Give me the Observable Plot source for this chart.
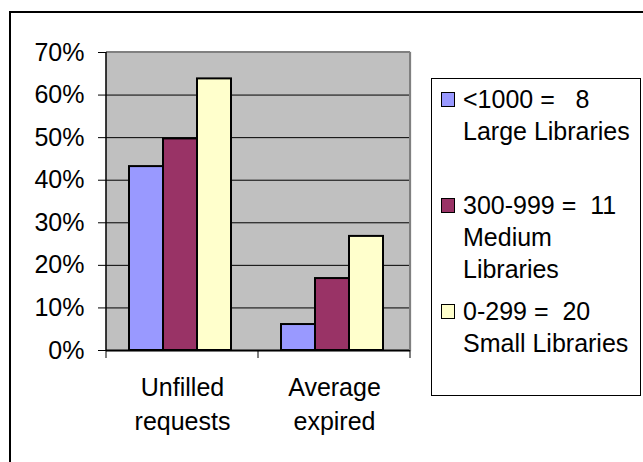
<!DOCTYPE html>
<html>
<head>
<meta charset="utf-8">
<script src="https://cdn.jsdelivr.net/npm/d3@7"></script>
<script src="https://cdn.jsdelivr.net/npm/@observablehq/plot@0.6"></script>
<style>
  html, body { margin: 0; padding: 0; background: #fff; }
  body { width: 643px; height: 462px; position: relative; overflow: hidden;
         font-family: "Liberation Sans", Arial, sans-serif; }
  #chart { position: absolute; left: 0; top: 0; }
  #outer { position: absolute; left: 9px; top: 11px; width: 700px; height: 500px;
           border: 2px solid #000; pointer-events: none; }
  #legend { position: absolute; left: 431px; top: 78px; width: 208px; height: 316px;
            border: 1px solid #000; background: #fff; }
  .entry { position: relative; height: 106px; padding-top: 4px; box-sizing: border-box; }
  .sw { position: absolute; left: 9px; top: 13px; width: 14px; height: 15px;
        box-sizing: border-box; border: 1.5px solid #000; }
  .lbl { position: absolute; left: 31px; top: 4px; font-size: 25px; line-height: 32px;
         white-space: pre; color: #000; }
</style>
</head>
<body>
<div id="chart"></div>
<div id="legend"></div>
<div id="outer"></div>
<script>
// ---- data ----
const categories = ["Unfilled\nrequests", "Average\nexpired"];
const seriesKeys = ["Large", "Medium", "Small"];
const seriesLabels = [
  ["<1000 =   8", "Large Libraries"],
  ["300-999 =  11", "Medium", "Libraries"],
  ["0-299 =  20", "Small Libraries"]
];
const largeValues  = [0.432, 0.061];
const mediumValues = [0.497, 0.169];
const smallValues  = [0.638, 0.268];
const seriesColors = ["#9999FF", "#993366", "#FFFFCC"];
const yTicks = [0, 0.1, 0.2, 0.3, 0.4, 0.5, 0.6, 0.7];
const gridTicks = [0.1, 0.2, 0.3, 0.4, 0.5, 0.6];

const valuesBySeries = [largeValues, mediumValues, smallValues];
const data = categories.flatMap((c, i) =>
  seriesKeys.map((s, j) => ({category: c, series: s, value: valuesBySeries[j][i]})));

const plot = Plot.plot({
  width: 420,
  height: 445,
  marginLeft: 106,
  marginRight: 10,
  marginTop: 52,
  marginBottom: 95,
  style: {fontFamily: "Liberation Sans, Arial, sans-serif", fontSize: "25px",
          background: "transparent", color: "#000", overflow: "visible"},
  fx: {domain: categories, padding: 0, axis: null},
  x: {domain: seriesKeys, paddingInner: 0, paddingOuter: 0.735, align: 0.46, axis: null},
  y: {domain: [0, 0.7]},
  color: {domain: seriesKeys, range: seriesColors},
  marks: [
    Plot.frame({fill: "#C0C0C0", stroke: "#C0C0C0", strokeWidth: 1.5}),
    Plot.gridY(gridTicks, {stroke: "#000", strokeOpacity: 1, strokeWidth: 1}),
    Plot.barY(data, {fx: "category", x: "series", y: "value", fill: "series",
                     stroke: "#000", strokeWidth: 2}),
    Plot.ruleY([0], {stroke: "#000", strokeWidth: 2}),
    Plot.axisY(yTicks, {tickSize: 8, tickPadding: 14, tickFormat: d3.format(".0%"),
                        label: null, fontSize: 25, strokeWidth: 1}),
    Plot.text(categories, {fx: d => d, text: d => d, frameAnchor: "bottom",
                           lineAnchor: "top", dy: 21, lineHeight: 1.36, fontSize: 25, fill: "#000"})
  ]
});
document.getElementById("chart").appendChild(plot);

// decorations derived from the plot's own scales
const fx = plot.scale("fx");
const y = plot.scale("y");
const edges = categories.map(c => fx.apply(c)).concat([fx.apply(categories[categories.length - 1]) + fx.bandwidth]);
const y0 = y.apply(0), yTop = y.apply(0.7);
const xL = edges[0], xR = edges[edges.length - 1];
const g = d3.select(plot).append("g");
g.append("line").attr("x1", xL).attr("x2", xR).attr("y1", yTop).attr("y2", yTop)
  .attr("stroke", "#808080").attr("stroke-width", 2);
g.append("line").attr("x1", xR).attr("x2", xR).attr("y1", yTop).attr("y2", y0)
  .attr("stroke", "#808080").attr("stroke-width", 2);
g.append("line").attr("x1", xL).attr("x2", xL).attr("y1", yTop).attr("y2", y0)
  .attr("stroke", "#000").attr("stroke-width", 1.5);
g.selectAll(".bt").data(edges).join("line")
  .attr("x1", d => d).attr("x2", d => d).attr("y1", y0).attr("y2", y0 + 8)
  .attr("stroke", "#000").attr("stroke-width", 1);

// legend
const legend = d3.select("#legend");
seriesKeys.forEach((s, i) => {
  const e = legend.append("div").attr("class", "entry");
  e.append("div").attr("class", "sw").style("background", seriesColors[i]);
  e.append("div").attr("class", "lbl").text(seriesLabels[i].join("\n"));
});
</script>
</body>
</html>
